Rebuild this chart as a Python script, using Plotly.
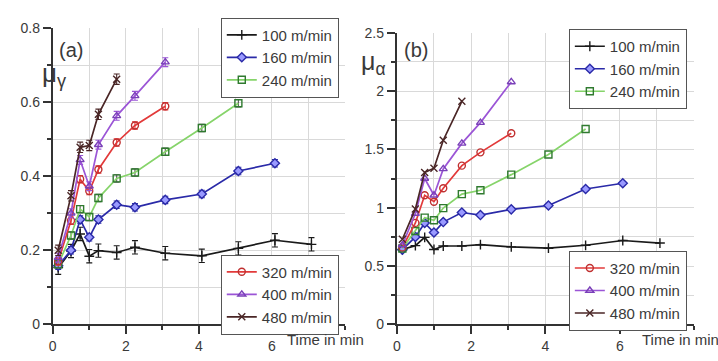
import plotly.graph_objects as go

# Sampling times (min)
t_full = [0.15, 0.5, 0.75, 1.0, 1.25, 1.75, 2.25, 3.08, 4.08, 5.08, 6.08, 7.08]

speeds = ["100 m/min", "160 m/min", "240 m/min", "320 m/min", "400 m/min", "480 m/min"]
n_points = [12, 11, 10, 8, 8, 6]

# (a) mu_gamma
mu_g_100 = [0.153, 0.198, 0.244, 0.184, 0.199, 0.194, 0.208, 0.192, 0.185, 0.205, 0.227, 0.216]
mu_g_160 = [0.158, 0.200, 0.283, 0.235, 0.283, 0.323, 0.316, 0.336, 0.352, 0.414, 0.435]
mu_g_240 = [0.162, 0.240, 0.311, 0.290, 0.341, 0.394, 0.410, 0.466, 0.530, 0.597]
mu_g_320 = [0.170, 0.280, 0.392, 0.360, 0.418, 0.491, 0.537, 0.589]
mu_g_400 = [0.180, 0.300, 0.444, 0.373, 0.485, 0.563, 0.617, 0.708]
mu_g_480 = [0.200, 0.347, 0.478, 0.483, 0.567, 0.662]
err_g = [0.018, 0.010, 0.010, 0.010, 0.012, 0.014]

# (b) mu_alpha
mu_a_100 = [0.642, 0.675, 0.746, 0.642, 0.672, 0.672, 0.683, 0.664, 0.653, 0.678, 0.719, 0.697]
mu_a_160 = [0.640, 0.750, 0.869, 0.787, 0.877, 0.959, 0.937, 0.986, 1.019, 1.161, 1.210]
mu_a_240 = [0.650, 0.800, 0.915, 0.893, 0.997, 1.117, 1.150, 1.284, 1.456, 1.675]
mu_a_320 = [0.660, 0.870, 1.107, 1.052, 1.167, 1.361, 1.475, 1.639]
mu_a_400 = [0.680, 0.950, 1.251, 1.107, 1.333, 1.552, 1.730, 2.079]
mu_a_480 = [0.730, 0.990, 1.303, 1.339, 1.579, 1.913]

mu_g = [mu_g_100, mu_g_160, mu_g_240, mu_g_320, mu_g_400, mu_g_480]
mu_a = [mu_a_100, mu_a_160, mu_a_240, mu_a_320, mu_a_400, mu_a_480]

# Axis ticks
x_ticks = [0, 2, 4, 6]
y_ticks_a = [0, 0.2, 0.4, 0.6, 0.8]
y_ticktext_a = ["0", "0.2", "0.4", "0.6", "0.8"]
y_ticks_b = [0, 0.5, 1, 1.5, 2, 2.5]
y_ticktext_b = ["0", "0.5", "1", "1.5", "2", "2.5"]

line_colors = ["#1a1a1a", "#2a2aa8", "#86d46a", "#e23a3a", "#9b55d6", "#4a2626"]
marker_colors = ["#1a1a1a", "#2a2aa8", "#2f7a2f", "#c03030", "#7a40b8", "#4a2626"]
symbols = ["cross-thin", "diamond", "square-open", "circle-open", "triangle-up-open", "x-thin"]
fills = ["#1a1a1a", "#9a9aff", "#2f7a2f", "#c03030", "#7a40b8", "#4a2626"]

FONT = "Liberation Sans, Arial, sans-serif"
TXT = "#3a3a3a"

fig = go.Figure()

legend_a = ["legend", "legend", "legend", "legend2", "legend2", "legend2"]
legend_b = ["legend3", "legend3", "legend3", "legend4", "legend4", "legend4"]

def marker_for(i):
    return dict(symbol=symbols[i], size=7, color=fills[i],
                line=dict(color=marker_colors[i], width=1.4))

for i, name in enumerate(speeds):
    n = n_points[i]
    fig.add_trace(go.Scatter(
        x=t_full[:n], y=mu_g[i], mode="lines+markers", name=name,
        line=dict(color=line_colors[i], width=1.7), marker=marker_for(i),
        error_y=dict(type="constant", value=err_g[i],
                     color=line_colors[i] if i != 2 else "#555", thickness=1.1, width=3),
        xaxis="x", yaxis="y", legend=legend_a[i]))
for i, name in enumerate(speeds):
    n = n_points[i]
    fig.add_trace(go.Scatter(
        x=t_full[:n], y=mu_a[i], mode="lines+markers", name=name,
        line=dict(color=line_colors[i], width=1.7), marker=marker_for(i),
        xaxis="x2", yaxis="y2", legend=legend_b[i]))

W, H = 718, 361

def px_x(p):
    return p / W

def px_y(p):
    return 1 - p / H

GRID = "#d9d9d9"
xcommon = dict(range=[0, 8], tickvals=x_ticks, showgrid=True, gridcolor=GRID, gridwidth=1,
               showline=True, linecolor="#333", linewidth=2, ticks="outside", ticklen=8,
               tickwidth=1.5, tickcolor="#333", zeroline=False,
               minor=dict(dtick=1, tick0=0, ticks="outside", ticklen=4, tickcolor="#333",
                          showgrid=True, gridcolor=GRID),
               tickfont=dict(family=FONT, size=14, color=TXT))
ycommon = dict(showgrid=True, gridcolor=GRID, showline=True, linecolor="#333", linewidth=2,
               ticks="outside", ticklen=8, tickwidth=1.5, tickcolor="#333", zeroline=False,
               tickfont=dict(family=FONT, size=14, color=TXT))

legend_style = dict(bgcolor="white", bordercolor="#555", borderwidth=1,
                    font=dict(family=FONT, size=15, color=TXT),
                    xanchor="left", yanchor="top", itemwidth=30, tracegroupgap=0)

fig.update_layout(
    width=W, height=H, margin=dict(l=0, r=0, t=0, b=0),
    paper_bgcolor="white", plot_bgcolor="white",
    xaxis=dict(domain=[px_x(49), px_x(343)], anchor="y", **xcommon),
    yaxis=dict(domain=[px_y(331), px_y(21)], anchor="x", range=[0, 0.8],
               tickvals=y_ticks_a, ticktext=y_ticktext_a,
               minor=dict(dtick=0.1, tick0=0, ticks="outside", ticklen=4, tickcolor="#333",
                          showgrid=True, gridcolor=GRID), **ycommon),
    xaxis2=dict(domain=[px_x(395), px_x(694)], anchor="y2", **xcommon),
    yaxis2=dict(domain=[px_y(331), px_y(26)], anchor="x2", range=[0, 2.5],
                tickvals=y_ticks_b, ticktext=y_ticktext_b,
                minor=dict(dtick=0.25, tick0=0, ticks="outside", ticklen=4, tickcolor="#333",
                           showgrid=True, gridcolor=GRID), **ycommon),
    legend=dict(x=px_x(218), y=px_y(10), **legend_style),
    legend2=dict(x=px_x(218), y=px_y(258), **legend_style),
    legend3=dict(x=px_x(568), y=px_y(22), **legend_style),
    legend4=dict(x=px_x(568), y=px_y(254), **legend_style),
    showlegend=True,
)

annotations = [
    dict(text="(a)", x=px_x(53), y=px_y(44), xanchor="left", yanchor="middle"),
    dict(text="(b)", x=px_x(400), y=px_y(44), xanchor="left", yanchor="middle"),
    dict(text="Time in min", x=px_x(283), y=px_y(347), xanchor="left", yanchor="middle",
         font=dict(family=FONT, size=15, color=TXT)),
    dict(text="Time in min", x=px_x(640), y=px_y(347), xanchor="left", yanchor="middle",
         font=dict(family=FONT, size=15, color=TXT)),
    dict(text="μ<sub>γ</sub>", x=px_x(36), y=px_y(70), xanchor="left", yanchor="middle",
         font=dict(family=FONT, size=26, color=TXT)),
    dict(text="μ<sub>α</sub>", x=px_x(357), y=px_y(58), xanchor="left", yanchor="middle",
         font=dict(family=FONT, size=25, color=TXT)),
]
for a in annotations:
    a.setdefault("font", dict(family=FONT, size=20, color=TXT))
    a.update(xref="paper", yref="paper", showarrow=False)
fig.update_layout(annotations=annotations)

fig.write_html("out.html")
